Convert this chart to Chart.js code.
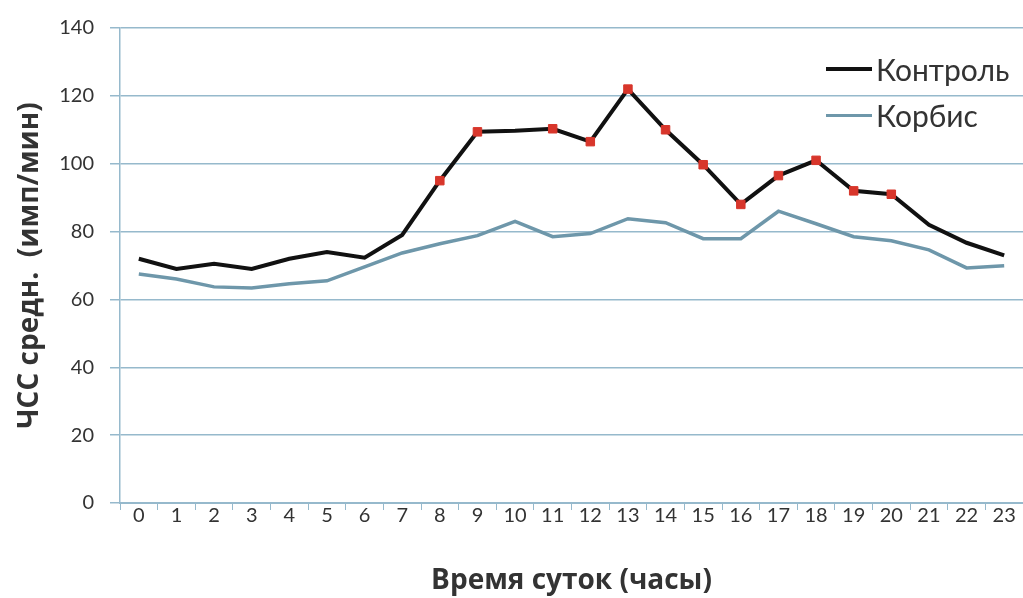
<!DOCTYPE html>
<html>
<head>
<meta charset="utf-8">
<script src="https://cdn.jsdelivr.net/npm/chart.js@4/dist/chart.umd.min.js"></script>
<style>
    html, body { margin: 0; padding: 0; background: #fff; }
    #wrap { position: relative; width: 1023px; height: 598px; }
    #legend { position: absolute; left: 826px; top: 46px; font-family: Lato, sans-serif; font-size: 30px; color: #333; }
    .item { display: flex; align-items: center; height: 46px; }
    .swatch { width: 46px; margin-right: 4px; }
</style>
</head>
<body>
<div id="wrap">
    <canvas id="chart" width="1023" height="598"></canvas>
    <div id="legend">
        <div class="item"><span class="swatch" style="border-top: 4px solid #111;"></span><span id="lg0"></span></div>
        <div class="item"><span class="swatch" style="border-top: 3px solid #6e97aa;"></span><span id="lg1"></span></div>
    </div>
</div>
<script>
// Hours of the day
const hours = ['0', '1', '2', '3', '4', '5', '6', '7', '8', '9', '10', '11',
               '12', '13', '14', '15', '16', '17', '18', '19', '20', '21', '22', '23'];

// Mean heart rate, beats/min
const controlValues = [72, 69, 70.5, 69, 72, 74, 72.3, 79, 95, 109.4, 109.7, 110.3,
                       106.5, 122, 110, 99.7, 88, 96.5, 101, 92, 91, 82, 76.7, 73];
const korbisValues = [67.5, 66, 63.7, 63.4, 64.6, 65.5, 69.6, 73.7, 76.4, 78.8, 83, 78.5,
                      79.4, 83.8, 82.6, 77.9, 77.9, 86, 82.3, 78.5, 77.3, 74.6, 69.3, 69.9];

// Hours marked with red points on the control line
const markedHours = [8, 9, 11, 12, 13, 14, 15, 16, 17, 18, 19, 20];

const seriesNames = ['Контроль', 'Корбис'];
const yTicks = [0, 20, 40, 60, 80, 100, 120, 140];

document.getElementById('lg0').textContent = seriesNames[0];
document.getElementById('lg1').textContent = seriesNames[1];

const axisColor = '#96b9cc';
const textColor = '#333';
const pointSizes = hours.map((h, i) => markedHours.includes(i) ? 6 : 0);

new Chart(document.getElementById('chart').getContext('2d'), {
    type: 'line',
    data: {
        labels: hours,
        datasets: [{
            label: seriesNames[0],
            data: controlValues,
            borderColor: '#111',
            borderWidth: 4,
            pointRadius: pointSizes,
            pointStyle: 'rect',
            pointBackgroundColor: '#d8362b',
            pointBorderColor: '#d8362b',
            pointBorderWidth: 1,
            tension: 0
        }, {
            label: seriesNames[1],
            data: korbisValues,
            borderColor: '#6e97aa',
            borderWidth: 3.5,
            pointRadius: 0,
            tension: 0
        }]
    },
    options: {
        responsive: false,
        animation: false,
        layout: { padding: { top: 28, right: 0, left: 0, bottom: 0 } },
        plugins: {
            legend: { display: false },
            tooltip: { enabled: false }
        },
        scales: {
            x: {
                offset: true,
                grid: {
                    offset: true,
                    drawOnChartArea: false,
                    drawTicks: true,
                    tickLength: 7,
                    color: axisColor
                },
                border: { color: axisColor, width: 2 },
                ticks: {
                    color: textColor,
                    font: { family: 'Lato, sans-serif', size: 20 },
                    padding: -6,
                    maxRotation: 0,
                    autoSkip: false
                },
                title: {
                    display: true,
                    text: 'Время суток (часы)',
                    color: textColor,
                    font: { family: 'Open Sans, sans-serif', size: 28, weight: 'bold' },
                    padding: { top: 0, bottom: 0 }
                },
                afterFit: scale => { scale.height = 95; }
            },
            y: {
                min: 0,
                max: 140,
                afterBuildTicks: scale => { scale.ticks = yTicks.map(v => ({ value: v })); },
                grid: {
                    color: axisColor,
                    lineWidth: 1.5,
                    tickLength: 10
                },
                border: { color: axisColor, width: 1.5 },
                ticks: {
                    color: textColor,
                    font: { family: 'Lato, sans-serif', size: 20 },
                    padding: 16
                },
                title: {
                    display: true,
                    text: 'ЧСС средн.  (имп/мин)',
                    color: textColor,
                    font: { family: 'Open Sans, sans-serif', size: 28, weight: 'bold' },
                    padding: { top: 13, bottom: 0 }
                },
                afterFit: scale => { scale.width = 120; }
            }
        }
    }
});
</script>
</body>
</html>
